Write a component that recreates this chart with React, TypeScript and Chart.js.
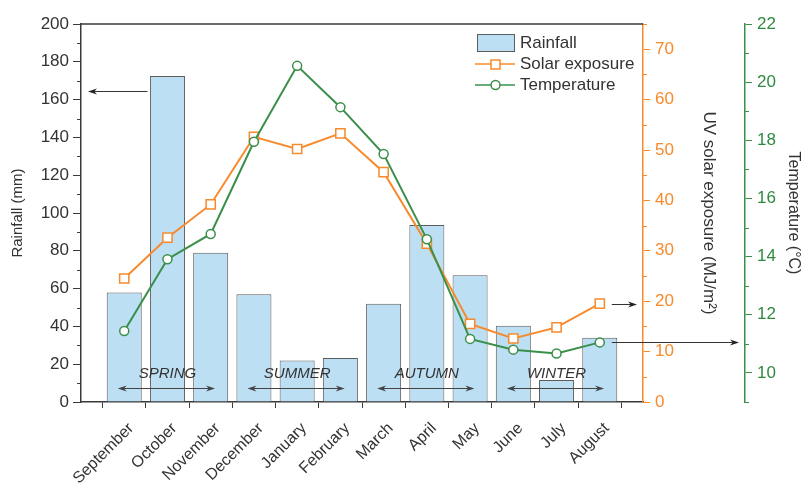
import React, { useEffect, useRef } from 'react';
import { Chart, registerables } from 'chart.js';

Chart.register(...registerables);

const months = ['September', 'October', 'November', 'December', 'January', 'February', 'March', 'April', 'May', 'June', 'July', 'August'];
const rainfall = [58, 172.5, 79, 57, 22, 23.3, 52, 93.6, 67, 40.4, 11.6, 34];
const solarExposure = [24.5, 32.6, 39.2, 52.6, 50.2, 53.3, 45.6, 31.4, 15.5, 12.6, 14.8, 19.5];
const temperature = [11.44, 13.91, 14.78, 17.95, 20.56, 19.14, 17.53, 14.6, 11.17, 10.8, 10.67, 11.05];
const seasons = ['SPRING', 'SUMMER', 'AUTUMN', 'WINTER'];
const legendLabels = ['Rainfall', 'Solar exposure', 'Temperature'];
const rainRange = [0, 200, 20];
const solarRange = [0, 75, 10];
const tempRange = [9, 22, 2];
const rainArrowValue = 164.5;
const tempTitle = 'Temperature (°C)';
const tempTitleCenter = 15.5;

const FONT = "'Liberation Sans', Arial, sans-serif";
const TEXT = '#333333';
const AXIS = '#3a3a3a';
const ORANGE = '#f78a2c';
const GREEN = '#3a8f4a';
const GREEN_TEXT = '#2f8a40';
const BAR = '#bcdff4';
const BAR_BORDER = '#5c5c5c';

function line(ctx: CanvasRenderingContext2D, x1: number, y1: number, x2: number, y2: number) {
  ctx.beginPath();
  ctx.moveTo(x1, y1);
  ctx.lineTo(x2, y2);
  ctx.stroke();
}

function head(ctx: CanvasRenderingContext2D, x: number, y: number, dir: number, len = 9, half = 3) {
  ctx.beginPath();
  ctx.moveTo(x, y);
  ctx.lineTo(x - dir * len, y - half);
  ctx.lineTo(x - dir * len * 0.7, y);
  ctx.lineTo(x - dir * len, y + half);
  ctx.closePath();
  ctx.fill();
}

const annotate = {
  id: 'annotate',
  afterDraw(chart: any) {
    const { ctx, chartArea: ca, scales } = chart;
    const xs = scales.x, ys = scales.y, y1 = scales.y1, y2 = scales.y2;
    ctx.save();
    // top frame
    ctx.strokeStyle = AXIS;
    ctx.lineWidth = 1.5;
    line(ctx, ca.left, ca.top, ca.right, ca.top);

    // minor ticks
    ctx.lineWidth = 1;
    ctx.strokeStyle = AXIS;
    for (let v = rainRange[0] + rainRange[2] / 2; v < rainRange[1]; v += rainRange[2]) {
      const p = Math.round(ys.getPixelForValue(v)) + 0.5;
      line(ctx, ca.left - 4, p, ca.left, p);
    }
    ctx.strokeStyle = ORANGE;
    for (let v = solarRange[0] + solarRange[2] / 2; v <= solarRange[1]; v += solarRange[2]) {
      const p = Math.round(y1.getPixelForValue(v)) + 0.5;
      line(ctx, y1.left, p, y1.left + 4, p);
    }
    ctx.strokeStyle = GREEN;
    for (let v = tempRange[0]; v < tempRange[1]; v += tempRange[2]) {
      const p = Math.round(y2.getPixelForValue(v)) + 0.5;
      line(ctx, y2.left, p, y2.left + 4, p);
    }

    // temperature axis title
    ctx.save();
    ctx.translate(y2.right - 9, y2.getPixelForValue(tempTitleCenter));
    ctx.rotate(Math.PI / 2);
    ctx.font = `16px ${FONT}`;
    ctx.fillStyle = TEXT;
    ctx.textAlign = 'center';
    ctx.textBaseline = 'middle';
    ctx.fillText(tempTitle, 0, 0);
    ctx.restore();

    // seasons
    const step = xs.getPixelForValue(2) - xs.getPixelForValue(1);
    ctx.strokeStyle = '#444';
    ctx.fillStyle = '#444';
    ctx.lineWidth = 1;
    const ay = Math.round(ys.getPixelForValue(7.5)) + 0.5;
    const ty = ys.getPixelForValue(15);
    seasons.forEach((s, i) => {
      const a = xs.getPixelForValue(3 * i + 1) - 0.15 * step;
      const b = xs.getPixelForValue(3 * i + 3) + 0.1 * step;
      line(ctx, a + 3, ay, b - 3, ay);
      head(ctx, a, ay, -1);
      head(ctx, b, ay, 1);
      ctx.font = `italic 15px ${FONT}`;
      ctx.fillStyle = '#333';
      ctx.textAlign = 'center';
      ctx.textBaseline = 'middle';
      ctx.fillText(s, xs.getPixelForValue(3 * i + 2), ty);
      ctx.fillStyle = '#444';
    });

    // pointer arrows
    ctx.strokeStyle = '#333';
    ctx.fillStyle = '#222';
    const ry = Math.round(ys.getPixelForValue(rainArrowValue)) + 0.5;
    const rx = xs.getPixelForValue(2) - 20;
    line(ctx, rx, ry, ca.left + 12, ry);
    head(ctx, ca.left + 7, ry, -1);
    const last = months.length;
    const sy = Math.round(y1.getPixelForValue(solarExposure[last - 1])) + 0.5;
    const sx = xs.getPixelForValue(last) + 12;
    line(ctx, sx, sy, ca.right - 10, sy);
    head(ctx, ca.right - 6, sy, 1);
    const gy = Math.round(y2.getPixelForValue(temperature[last - 1])) + 0.5;
    line(ctx, sx, gy, y2.left - 10, gy);
    head(ctx, y2.left - 6, gy, 1);

    // legend
    const lx = ca.right - 166;
    ctx.font = `17px ${FONT}`;
    ctx.textAlign = 'left';
    ctx.textBaseline = 'middle';
    ctx.fillStyle = BAR;
    ctx.fillRect(lx, 34, 37, 17);
    ctx.strokeStyle = BAR_BORDER;
    ctx.strokeRect(lx + 0.5, 34.5, 37, 17);
    ctx.fillStyle = TEXT;
    ctx.fillText(legendLabels[0], lx + 43, 43);

    ctx.strokeStyle = ORANGE;
    ctx.lineWidth = 1.5;
    line(ctx, lx - 2, 64, lx + 38, 64);
    ctx.fillStyle = '#fff';
    ctx.fillRect(lx + 14, 60, 9, 9);
    ctx.strokeRect(lx + 14, 60, 9, 9);
    ctx.fillStyle = TEXT;
    ctx.fillText(legendLabels[1], lx + 43, 64);

    ctx.strokeStyle = GREEN;
    line(ctx, lx - 2, 85, lx + 38, 85);
    ctx.beginPath();
    ctx.arc(lx + 18.5, 85, 4.5, 0, Math.PI * 2);
    ctx.fillStyle = '#fff';
    ctx.fill();
    ctx.stroke();
    ctx.fillStyle = TEXT;
    ctx.fillText(legendLabels[2], lx + 43, 85);
    ctx.restore();
  },
};

export default function App() {
  const ref = useRef<HTMLCanvasElement>(null);
  useEffect(() => {
    const canvas = ref.current!;
    const labels = ['', ...months, ''];
    const pad = (a: number[]) => [null, ...a, null];
    const chart = new Chart(canvas, {
      type: 'bar',
      data: {
        labels,
        datasets: [
          {
            type: 'line',
            label: legendLabels[2],
            data: pad(temperature),
            yAxisID: 'y2',
            borderColor: GREEN,
            borderWidth: 2,
            pointStyle: 'circle',
            pointRadius: 4.5,
            pointBorderWidth: 1.5,
            pointBackgroundColor: '#fff',
            pointBorderColor: GREEN,
            tension: 0,
            order: 1,
          } as any,
          {
            type: 'line',
            label: legendLabels[1],
            data: pad(solarExposure),
            yAxisID: 'y1',
            borderColor: ORANGE,
            borderWidth: 2,
            pointStyle: 'rect',
            pointRadius: 6.5,
            pointBorderWidth: 1.5,
            pointBackgroundColor: '#fff',
            pointBorderColor: ORANGE,
            tension: 0,
            order: 2,
          },
          {
            type: 'bar',
            label: legendLabels[0],
            data: pad(rainfall),
            yAxisID: 'y',
            backgroundColor: BAR,
            borderColor: BAR_BORDER,
            borderWidth: 1,
            barPercentage: 0.9,
            categoryPercentage: 0.9,
            order: 3,
          },
        ],
      },
      options: {
        responsive: false,
        animation: false,
        devicePixelRatio: 1,
        layout: { padding: { top: 24, left: 0, right: 0, bottom: 0 } },
        plugins: { legend: { display: false }, tooltip: { enabled: false } },
        scales: {
          x: {
            type: 'category',
            offset: false,
            grid: { offset: true, drawOnChartArea: false, drawTicks: true, tickLength: 6, color: AXIS },
            border: { display: true, color: AXIS, width: 1.5 },
            ticks: { autoSkip: false, maxRotation: 45, minRotation: 45, font: { family: FONT, size: 16 }, color: TEXT, padding: 11, labelOffset: 7 },
            afterFit: (s: any) => { s.height = 81; },
          },
          y: {
            position: 'left',
            min: rainRange[0],
            max: rainRange[1],
            ticks: { stepSize: rainRange[2], font: { family: FONT, size: 17 }, color: TEXT, padding: 4 },
            grid: { drawOnChartArea: false, tickLength: 8, color: AXIS },
            border: { color: AXIS, width: 1.5 },
            title: { display: true, text: 'Rainfall (mm)', font: { family: FONT, size: 15 }, color: TEXT, padding: { top: 9, bottom: 0 } },
            afterFit: (s: any) => { s.width = 81; },
          },
          y1: {
            position: 'right',
            weight: 0,
            min: solarRange[0],
            max: solarRange[1],
            ticks: { stepSize: solarRange[2], includeBounds: false, font: { family: FONT, size: 17 }, color: ORANGE, padding: 5 },
            grid: { drawOnChartArea: false, tickLength: 7, color: ORANGE },
            border: { color: ORANGE, width: 1.5 },
            title: { display: true, text: 'UV solar exposure (MJ/m²)', font: { family: FONT, size: 17 }, color: TEXT, padding: { top: 26, bottom: 0 } },
            afterFit: (s: any) => { s.width = 102; },
          },
          y2: {
            position: 'right',
            weight: 1,
            min: tempRange[0],
            max: tempRange[1],
            ticks: { stepSize: tempRange[2], includeBounds: false, font: { family: FONT, size: 17 }, color: GREEN_TEXT, padding: 5 },
            grid: { drawOnChartArea: false, tickLength: 7, color: GREEN },
            border: { color: GREEN, width: 1.5 },
            title: { display: false },
            afterFit: (s: any) => { s.width = 57; },
          },
        },
      },
      plugins: [annotate],
    });
    return () => chart.destroy();
  }, []);
  return (
    <div style={{ position: 'absolute', left: 0, top: 0, width: 802, height: 483 }}>
      <canvas ref={ref} width={802} height={483} />
    </div>
  );
}
